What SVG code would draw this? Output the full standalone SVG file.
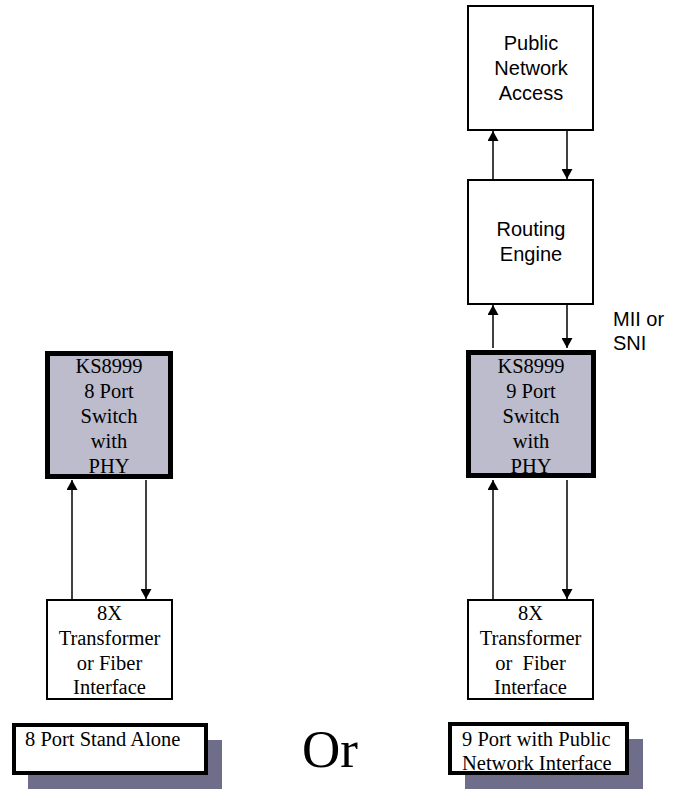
<svg xmlns="http://www.w3.org/2000/svg" width="676" height="790" viewBox="0 0 676 790">
<style>
.box{fill:#ffffff;stroke:#000;stroke-width:2}
.chip{fill:#bcbccc;stroke:#000;stroke-width:5}
.lbl{fill:#fff;stroke:#000;stroke-width:4}
.shadow{fill:#6e6e8a}
.serif{font-family:"Liberation Serif","Times New Roman",serif;font-size:20.5px;fill:#000}
.sans{font-family:"Liberation Sans",Arial,sans-serif;font-size:20px;fill:#000}
.c{text-anchor:middle}
.wire{stroke:#000;stroke-width:1.5;fill:none;marker-end:url(#ah)}
</style>
<defs>
<marker id="ah" viewBox="0 0 10 11" refX="10" refY="5.5" markerWidth="11" markerHeight="11" markerUnits="userSpaceOnUse" orient="auto">
<path d="M0,0 L10,5.5 L0,11 Z" fill="#000"/>
</marker>
</defs>
<rect width="676" height="790" fill="#fff"/>
<g id="connectors">
<line class="wire" x1="493" y1="180" x2="493" y2="131"/>
<line class="wire" x1="567" y1="130" x2="567" y2="179"/>
<line class="wire" x1="493" y1="348" x2="493" y2="305"/>
<line class="wire" x1="567" y1="304" x2="567" y2="348"/>
<line class="wire" x1="72" y1="600" x2="72" y2="480"/>
<line class="wire" x1="146" y1="480" x2="146" y2="599"/>
<line class="wire" x1="493" y1="600" x2="493" y2="480"/>
<line class="wire" x1="567" y1="480" x2="567" y2="599"/>
</g>
<g id="public-network-access">
<rect class="box" x="468" y="6" width="125" height="124"/>
<text class="sans c" x="531" y="50">Public</text>
<text class="sans c" x="531" y="75">Network</text>
<text class="sans c" x="531" y="100">Access</text>
</g>
<g id="routing-engine">
<rect class="box" x="468" y="180" width="125" height="124"/>
<text class="sans c" x="531" y="236">Routing</text>
<text class="sans c" x="531" y="261">Engine</text>
</g>
<g id="mii-label">
<text class="sans" x="613" y="326">MII or</text>
<text class="sans" x="613" y="350">SNI</text>
</g>
<g id="switch-8">
<rect class="chip" x="47.5" y="353.5" width="123" height="123"/>
<text class="serif c" x="109" y="373">KS8999</text>
<text class="serif c" x="109" y="398">8 Port</text>
<text class="serif c" x="109" y="423">Switch</text>
<text class="serif c" x="109" y="448">with</text>
<text class="serif c" x="109" y="473">PHY</text>
</g>
<g id="switch-9">
<rect class="chip" x="468.5" y="352.5" width="125" height="123"/>
<text class="serif c" x="531" y="373">KS8999</text>
<text class="serif c" x="531" y="398">9 Port</text>
<text class="serif c" x="531" y="423">Switch</text>
<text class="serif c" x="531" y="448">with</text>
<text class="serif c" x="531" y="473">PHY</text>
</g>
<g id="transformer-8">
<rect class="box" x="47" y="600" width="125" height="99"/>
<text class="serif c" x="109.5" y="620">8X</text>
<text class="serif c" x="109.5" y="645">Transformer</text>
<text class="serif c" x="109.5" y="670">or Fiber</text>
<text class="serif c" x="109.5" y="694">Interface</text>
</g>
<g id="transformer-9">
<rect class="box" x="468" y="600" width="125" height="99"/>
<text class="serif c" x="530.5" y="620">8X</text>
<text class="serif c" x="530.5" y="645">Transformer</text>
<text class="serif c" x="530.5" y="670" xml:space="preserve">or  Fiber</text>
<text class="serif c" x="530.5" y="694">Interface</text>
</g>
<g id="label-8-port">
<rect class="shadow" x="28" y="740" width="194" height="49"/>
<rect class="lbl" x="14" y="725" width="192" height="48"/>
<text class="serif" x="25" y="746">8 Port Stand Alone</text>
</g>
<g id="or-text">
<text x="302" y="767" style="font-family:'Liberation Serif','Times New Roman',serif;font-size:53px;fill:#000">Or</text>
</g>
<g id="label-9-port">
<rect class="shadow" x="465" y="739" width="178" height="50"/>
<rect class="lbl" x="450" y="724" width="177" height="49"/>
<text class="serif" x="462" y="746">9 Port with Public</text>
<text class="serif" x="462" y="770">Network Interface</text>
</g>
</svg>
